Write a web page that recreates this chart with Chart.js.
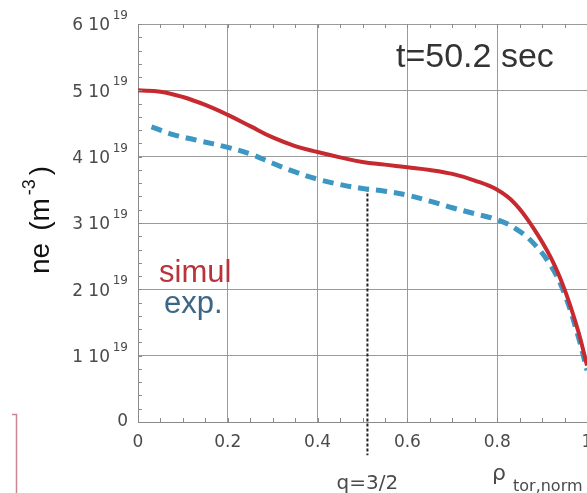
<!DOCTYPE html>
<html>
<head>
<meta charset="utf-8">
<script src="https://cdn.jsdelivr.net/npm/chart.js@4"></script>
<style>
  body { margin: 0; background: #fff; }
  #wrap { width: 587px; height: 493px; position: relative; }
</style>
</head>
<body>
<div id="wrap"><canvas id="mychart"></canvas></div>
<script>
// density profiles, values in units of 10^19 m^-3
const simulRho = [0, 0.05, 0.1, 0.15, 0.2, 0.25, 0.3, 0.35, 0.4, 0.45, 0.5, 0.55, 0.6, 0.65, 0.7, 0.75, 0.8, 0.84, 0.88, 0.92, 0.95, 0.98, 1.0];
const simulNe  = [5.00, 4.98, 4.90, 4.78, 4.63, 4.46, 4.29, 4.16, 4.07, 3.99, 3.92, 3.88, 3.84, 3.80, 3.74, 3.64, 3.50, 3.29, 2.93, 2.47, 2.00, 1.38, 0.85];
const expRho   = [0.03, 0.08, 0.13, 0.2, 0.25, 0.3, 0.35, 0.4, 0.45, 0.5, 0.55, 0.6, 0.65, 0.7, 0.75, 0.8, 0.84, 0.88, 0.92, 0.95, 0.98, 1.0];
const expNe    = [4.45, 4.33, 4.25, 4.14, 4.04, 3.90, 3.77, 3.66, 3.58, 3.52, 3.48, 3.42, 3.33, 3.23, 3.14, 3.05, 2.92, 2.70, 2.35, 1.93, 1.30, 0.78];

// q=3/2 surface marker
const qRho = [0.511, 0.511];
const qNe  = [3.52, -0.5];

// tick labels
const xTickValues = [0, 0.2, 0.4, 0.6, 0.8, 1];
const xTickLabels = ['0', '0.2', '0.4', '0.6', '0.8', '1'];
const yTickValues = [0, 1, 2, 3, 4, 5, 6];
const yTickLabels = ['0', '1 10', '2 10', '3 10', '4 10', '5 10', '6 10'];
const yTickExp    = ['', '19', '19', '19', '19', '19', '19'];

const toPoints = (xs, ys) => xs.map((x, i) => ({x: x, y: ys[i]}));

const tickFont = '17px "DejaVu Sans"';

// draws the custom labels, minor ticks and annotations
const decorations = {
    id: 'decorations',
    afterDraw(chart) {
        const ctx = chart.ctx;
        const xs = chart.scales.x;
        const ys = chart.scales.y;
        const area = chart.chartArea;

        ctx.save();
        // minor ticks
        ctx.strokeStyle = '#8a8a8a';
        ctx.lineWidth = 1;
        ctx.beginPath();
        for (let v = 0; v <= 6.001; v += 0.2) {
            const py = Math.round(ys.getPixelForValue(v)) + 0.5;
            ctx.moveTo(area.left, py);
            ctx.lineTo(area.left + 4, py);
        }
        for (let v = 0; v <= 1.001; v += 0.05) {
            const px = Math.round(xs.getPixelForValue(v)) + 0.5;
            ctx.moveTo(px, area.bottom);
            ctx.lineTo(px, area.bottom - 4);
            ctx.moveTo(px, area.top);
            ctx.lineTo(px, area.top + 4);
        }
        ctx.stroke();

        // x tick labels
        ctx.fillStyle = '#4a4a4a';
        ctx.font = tickFont;
        ctx.textAlign = 'center';
        ctx.textBaseline = 'middle';
        xTickValues.forEach((v, i) => {
            ctx.fillText(xTickLabels[i], xs.getPixelForValue(v), area.bottom + 21);
        });

        // y tick labels with exponent
        yTickValues.forEach((v, i) => {
            const py = ys.getPixelForValue(v);
            ctx.textAlign = 'right';
            ctx.textBaseline = 'middle';
            if (yTickExp[i]) {
                ctx.font = '12px "DejaVu Sans"';
                ctx.fillText(yTickExp[i], 128, py - 8);
                ctx.font = tickFont;
                ctx.fillText(yTickLabels[i], 110, py + 2);
            } else {
                ctx.font = tickFont;
                ctx.fillText(yTickLabels[i], 128, py);
            }
        });

        // q=3/2 label
        ctx.textAlign = 'center';
        ctx.textBaseline = 'alphabetic';
        ctx.font = '20px "DejaVu Sans"';
        ctx.fillText('q=3/2', xs.getPixelForValue(qRho[0]), 489);

        // x axis title: rho_tor,norm
        ctx.textAlign = 'left';
        ctx.font = '22px "DejaVu Sans"';
        ctx.fillText('\u03C1', 492, 480);
        ctx.font = '16px "DejaVu Sans"';
        ctx.fillText('tor,norm', 513, 491);

        // title
        ctx.fillStyle = '#333';
        ctx.font = '34px "Liberation Sans"';
        ctx.fillText('t=50.2 sec', 396, 67);

        // series labels
        ctx.font = '31px "Liberation Sans"';
        ctx.fillStyle = '#b8333a';
        ctx.fillText('simul', 159, 282);
        ctx.fillStyle = '#3b6785';
        ctx.fillText('exp.', 164, 313);

        // y axis title
        ctx.fillStyle = '#111';
        ctx.translate(49, 274);
        ctx.rotate(-Math.PI / 2);
        ctx.font = '28px "Liberation Sans"';
        let x0 = 0;
        ctx.fillText('ne', x0, 0);
        x0 += ctx.measureText('ne').width + 12;
        ctx.fillText('(m', x0, 0);
        x0 += ctx.measureText('(m').width + 3;
        ctx.font = '18px "Liberation Sans"';
        ctx.fillText('-3', x0, -14);
        x0 += ctx.measureText('-3').width + 4;
        ctx.font = '28px "Liberation Sans"';
        ctx.fillText(')', x0, 0);
        ctx.restore();

        // edge of neighbouring panel
        ctx.save();
        ctx.strokeStyle = '#c98690';
        ctx.lineWidth = 1.5;
        ctx.beginPath();
        ctx.moveTo(12, 414.5);
        ctx.lineTo(16.5, 414.5);
        ctx.lineTo(16.5, 493);
        ctx.stroke();
        ctx.restore();
    }
};

const ctx = document.getElementById('mychart').getContext('2d');
const myChart = new Chart(ctx, {
    type: 'line',
    data: {
        datasets: [
            {
                label: 'simul',
                data: toPoints(simulRho, simulNe),
                borderColor: '#c62a30',
                borderWidth: 4,
                pointRadius: 0,
                tension: 0.4,
                order: 1
            },
            {
                label: 'exp.',
                data: toPoints(expRho, expNe),
                borderColor: '#3d97c3',
                borderWidth: 5,
                borderDash: [11, 7],
                borderCapStyle: 'butt',
                pointRadius: 0,
                tension: 0.4,
                order: 2
            },
            {
                label: 'q=3/2',
                data: toPoints(qRho, qNe),
                borderColor: '#222',
                borderWidth: 2,
                borderDash: [3, 2],
                pointRadius: 0,
                clip: false,
                order: 3
            }
        ]
    },
    options: {
        responsive: true,
        maintainAspectRatio: false,
        animation: false,
        layout: { padding: { left: 138, right: 0, top: 24, bottom: 71 } },
        plugins: {
            legend: { display: false },
            tooltip: { enabled: false }
        },
        scales: {
            x: {
                type: 'linear',
                min: 0,
                max: 1,
                afterFit: (s) => { s.height = 0; },
                ticks: { display: false, stepSize: 0.2 },
                grid: { color: '#9a9a9a', drawTicks: false },
                border: { color: '#8a8a8a' }
            },
            y: {
                min: 0,
                max: 6,
                afterFit: (s) => { s.width = 0; },
                ticks: { display: false, stepSize: 1 },
                grid: { color: '#9a9a9a', drawTicks: false },
                border: { color: '#8a8a8a' }
            }
        }
    },
    plugins: [decorations]
});
</script>
</body>
</html>
